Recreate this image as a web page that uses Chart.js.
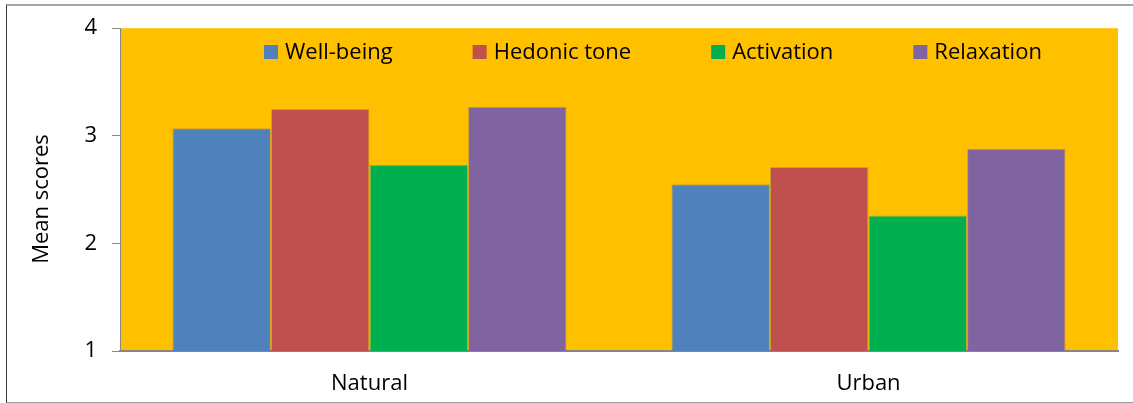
<!DOCTYPE html>
<html>
<head>
<meta charset="utf-8">
<script src="https://cdn.jsdelivr.net/npm/chart.js@4/dist/chart.umd.min.js"></script>
<style>
  html, body { margin: 0; padding: 0; background: #ffffff; overflow: hidden; }
  #wrap { position: relative; width: 1133px; height: 403px; }
  #frame {
    position: absolute; left: 6px; top: 4px; width: 1140px; height: 396px;
    border-left: 1.5px solid #3a3a3a; border-top: 2px solid #a6a6a6; border-bottom: 2px solid #9a9a9a;
    pointer-events: none;
  }
  canvas { position: absolute; left: 0; top: 0; }
</style>
</head>
<body>
<div id="wrap">
  <canvas id="chart" width="1133" height="403"></canvas>
  <div id="frame"></div>
</div>
<script>
// Environment categories and mean scores per measure
const categories = ['Natural', 'Urban'];
const wellBeing   = [3.07, 2.55];
const hedonicTone = [3.25, 2.71];
const activation  = [2.73, 2.26];
const relaxation  = [3.27, 2.88];
const seriesNames = ['Well-being', 'Hedonic tone', 'Activation', 'Relaxation'];
const yTicks = [1, 2, 3, 4];
const axisTitle = 'Mean scores';

const colors = ['#4F81BD', '#C0504D', '#00B050', '#8064A2'];
const FONT = '"Open Sans", Lato, sans-serif';
const FONT_SIZE = 22;

// Yellow plot background, painted before the axes
const plotBackground = {
  id: 'plotBackground',
  beforeDraw(chart) {
    const { ctx, chartArea: a } = chart;
    ctx.save();
    ctx.fillStyle = '#FFC000';
    ctx.fillRect(a.left, a.top, a.right - a.left, a.bottom - a.top);
    ctx.restore();
  }
};

// Legend row drawn inside the top of the plot area
const insideLegend = {
  id: 'insideLegend',
  afterDatasetsDraw(chart) {
    const { ctx, chartArea: a } = chart;
    ctx.save();
    ctx.font = FONT_SIZE + 'px ' + FONT;
    ctx.textBaseline = 'alphabetic';
    ctx.textAlign = 'left';
    let x = a.left + 144;
    const base = 59;
    chart.data.datasets.forEach(ds => {
      ctx.fillStyle = ds.backgroundColor;
      ctx.fillRect(x, base - 14, 14, 14);
      x += 21;
      ctx.fillStyle = '#000000';
      ctx.fillText(ds.label, x, base);
      x += ctx.measureText(ds.label).width + 80;
    });
    ctx.restore();
  }
};

// Rotated value-axis title
const yTitle = {
  id: 'yTitle',
  afterDraw(chart) {
    const { ctx } = chart;
    ctx.save();
    ctx.translate(42, 199);
    ctx.rotate(-Math.PI / 2);
    ctx.font = FONT_SIZE + 'px ' + FONT;
    ctx.fillStyle = '#000000';
    ctx.textAlign = 'center';
    ctx.textBaseline = 'middle';
    ctx.fillText(axisTitle, 0, 0);
    ctx.restore();
  }
};

const seriesValues = [wellBeing, hedonicTone, activation, relaxation];

new Chart(document.getElementById('chart'), {
  type: 'bar',
  data: {
    labels: categories,
    datasets: seriesValues.map((vals, i) => ({
      label: seriesNames[i],
      data: vals,
      backgroundColor: colors[i],
      borderColor: 'rgba(110,110,110,0.35)',
      borderWidth: 1,
      categoryPercentage: 0.79,
      barPercentage: 1.0
    }))
  },
  options: {
    responsive: false,
    animation: false,
    layout: { padding: { top: 26, right: 15, left: 0, bottom: 0 } },
    plugins: {
      legend: { display: false },
      tooltip: { enabled: false }
    },
    scales: {
      x: {
        afterFit(scale) { scale.height = 52; },
        grid: { display: true, drawOnChartArea: false, drawTicks: false },
        border: { display: true, color: '#868686', width: 2 },
        ticks: {
          padding: 20,
          color: '#000000',
          font: { family: FONT, size: FONT_SIZE }
        }
      },
      y: {
        min: 1,
        max: 4,
        afterFit(scale) { scale.width = 120; },
        afterBuildTicks(scale) { scale.ticks = yTicks.map(v => ({ value: v })); },
        grid: { drawOnChartArea: false, drawTicks: true, tickLength: 8, color: '#868686' },
        border: { display: true, color: '#868686', width: 1 },
        ticks: {
          padding: 15,
          color: '#000000',
          font: { family: FONT, size: FONT_SIZE }
        }
      }
    }
  },
  plugins: [plotBackground, insideLegend, yTitle]
});
</script>
</body>
</html>
